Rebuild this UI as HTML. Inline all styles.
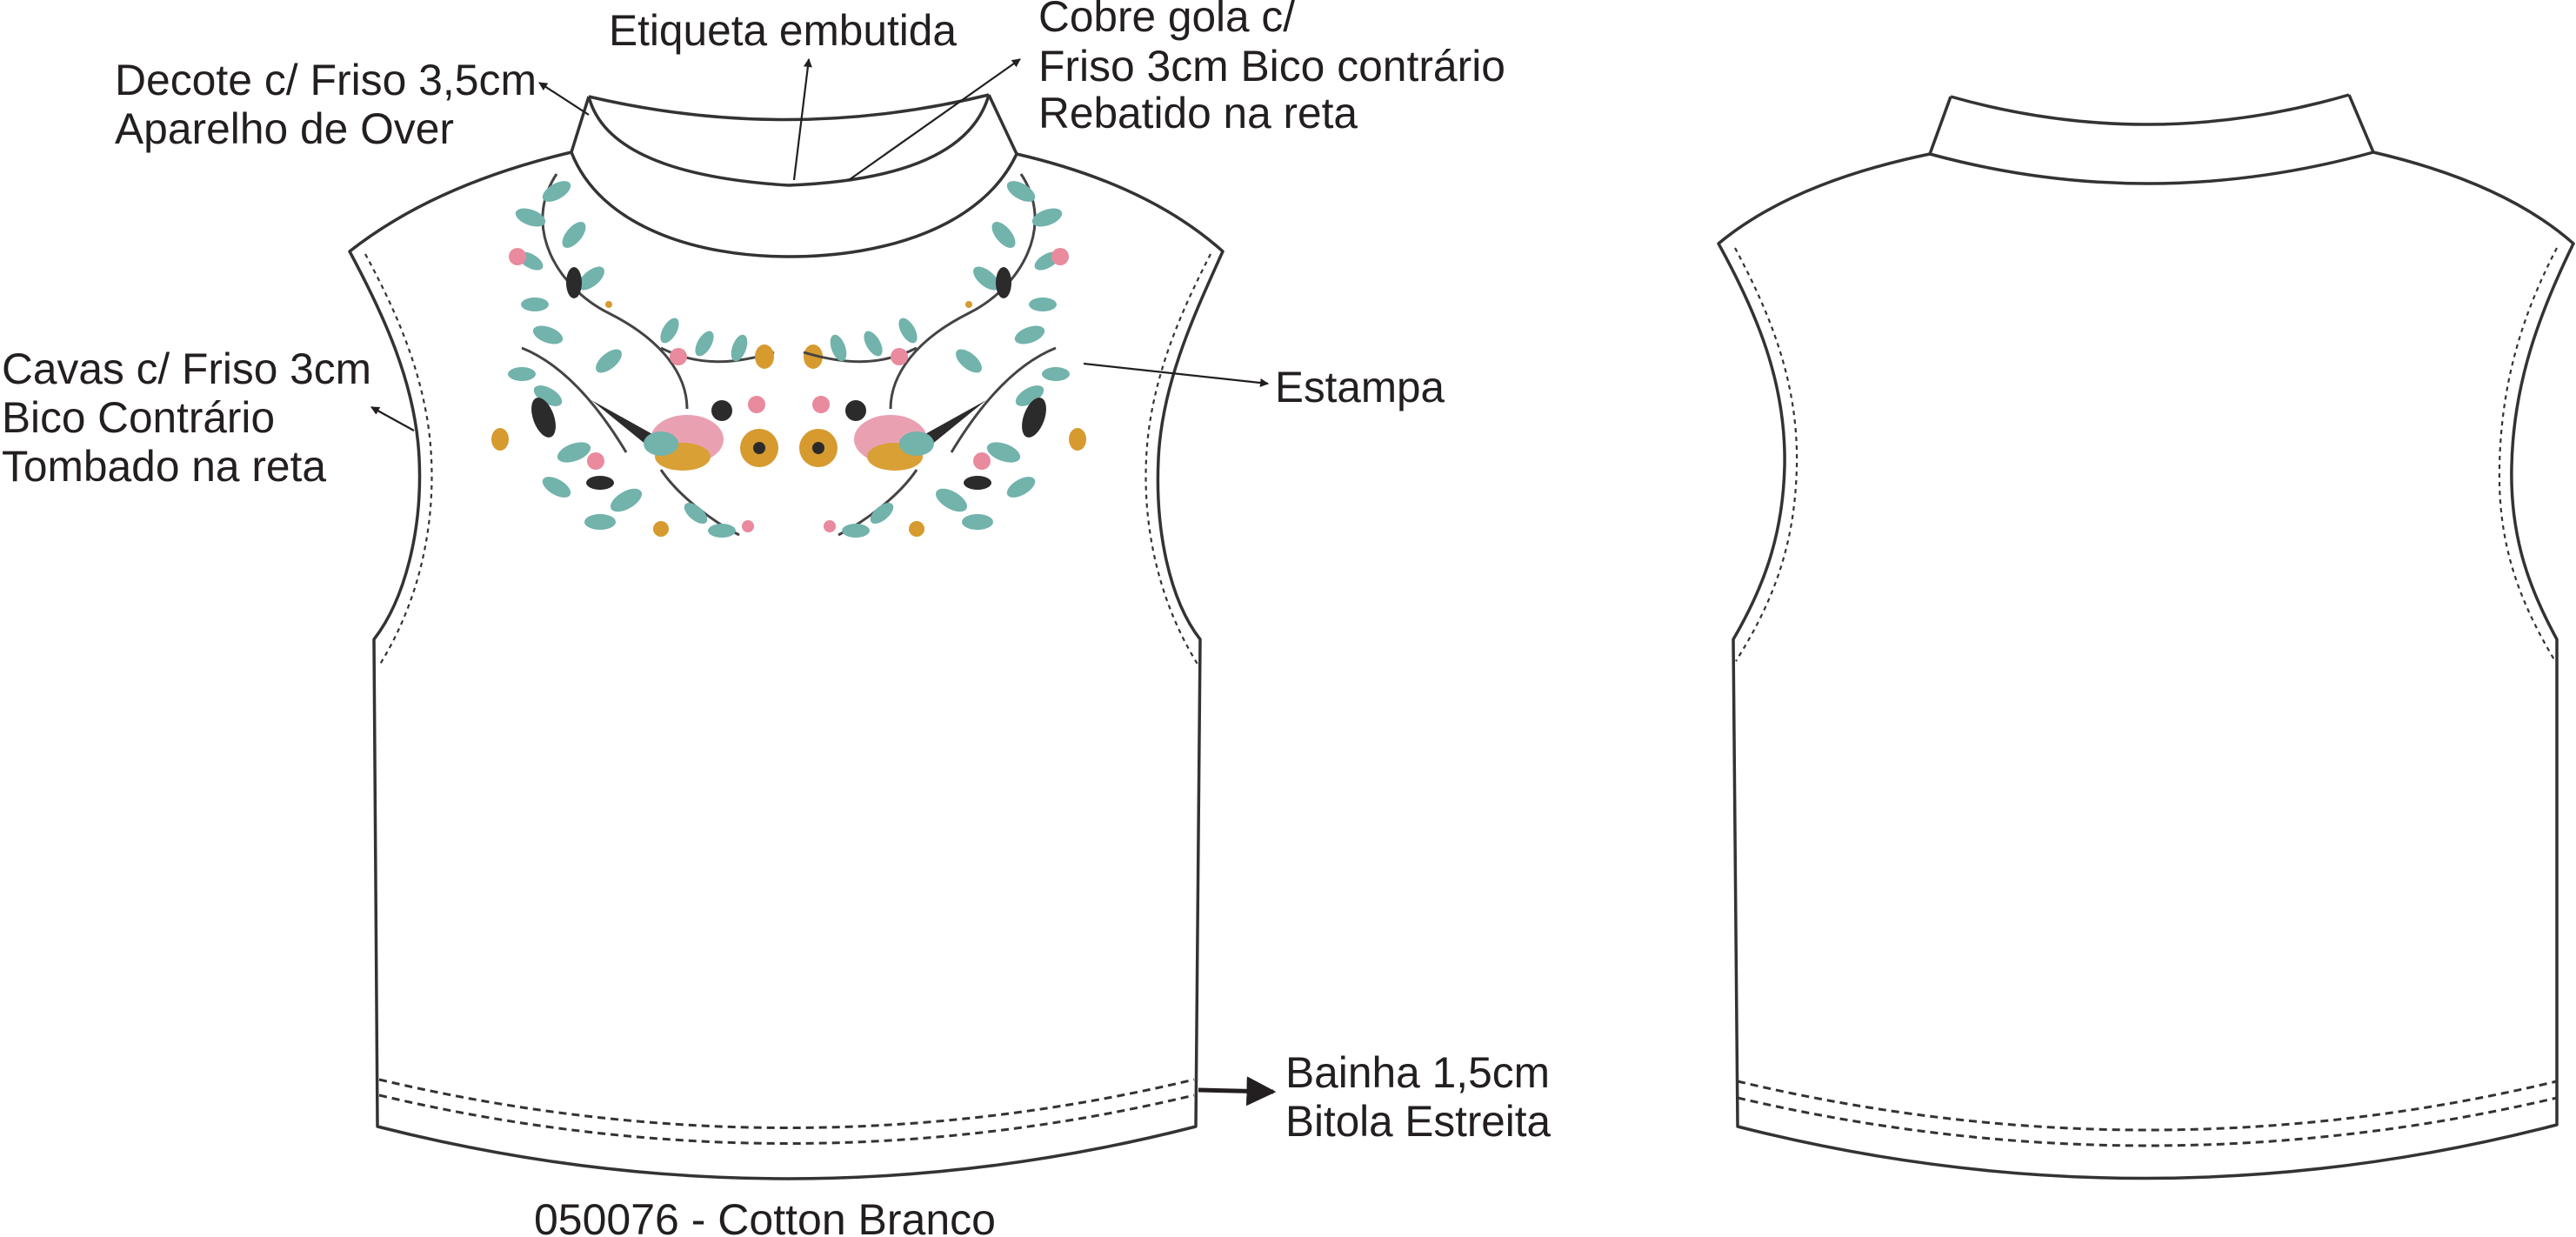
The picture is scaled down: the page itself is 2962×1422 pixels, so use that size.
<!DOCTYPE html>
<html><head><meta charset="utf-8"><style>
html,body{margin:0;padding:0;background:#fff}
svg{display:block}
text{font-family:"Liberation Sans",sans-serif;font-size:50px;fill:#231f20}
</style></head><body>
<svg width="2962" height="1422" viewBox="0 0 2962 1422" xmlns="http://www.w3.org/2000/svg">
<defs>
<marker id="ah" markerWidth="10" markerHeight="10" refX="9" refY="5" orient="auto" markerUnits="userSpaceOnUse" viewBox="0 0 10 10"><path d="M0,0 L10,5 L0,10 z" fill="#231f20"/></marker>
<marker id="ahb" viewBox="0 0 10 10" markerWidth="34" markerHeight="34" refX="9" refY="5" orient="auto" markerUnits="userSpaceOnUse"><path d="M0,0 L10,5 L0,10 z" fill="#231f20"/></marker>
<g id="half">
  <path d="M640,200 C600,260 640,330 700,360 C760,390 790,430 790,470" fill="none" stroke="#444" stroke-width="3"/>
  <path d="M600,400 C650,420 690,470 720,520" fill="none" stroke="#444" stroke-width="3"/>
  <path d="M760,400 C800,420 840,420 890,405" fill="none" stroke="#444" stroke-width="3"/>
  <path d="M760,540 C780,570 820,600 850,615" fill="none" stroke="#444" stroke-width="3"/>
  <g fill="#72b3ac">
    <ellipse cx="640" cy="220" rx="18" ry="9" transform="rotate(-30 640 220)"/>
    <ellipse cx="610" cy="250" rx="18" ry="9" transform="rotate(20 610 250)"/>
    <ellipse cx="660" cy="270" rx="18" ry="9" transform="rotate(-50 660 270)"/>
    <ellipse cx="610" cy="300" rx="16" ry="8" transform="rotate(30 610 300)"/>
    <ellipse cx="680" cy="320" rx="18" ry="9" transform="rotate(-40 680 320)"/>
    <ellipse cx="615" cy="350" rx="16" ry="8"/>
    <ellipse cx="630" cy="385" rx="18" ry="9" transform="rotate(20 630 385)"/>
    <ellipse cx="700" cy="415" rx="18" ry="9" transform="rotate(-40 700 415)"/>
    <ellipse cx="600" cy="430" rx="16" ry="8"/>
    <ellipse cx="630" cy="455" rx="18" ry="9" transform="rotate(30 630 455)"/>
    <ellipse cx="770" cy="380" rx="16" ry="8" transform="rotate(-60 770 380)"/>
    <ellipse cx="810" cy="395" rx="16" ry="8" transform="rotate(-60 810 395)"/>
    <ellipse cx="850" cy="400" rx="16" ry="8" transform="rotate(-70 850 400)"/>
    <ellipse cx="660" cy="520" rx="20" ry="10" transform="rotate(-20 660 520)"/>
    <ellipse cx="640" cy="560" rx="18" ry="9" transform="rotate(30 640 560)"/>
    <ellipse cx="720" cy="575" rx="20" ry="10" transform="rotate(-30 720 575)"/>
    <ellipse cx="690" cy="600" rx="18" ry="9"/>
    <ellipse cx="800" cy="590" rx="16" ry="8" transform="rotate(40 800 590)"/>
    <ellipse cx="830" cy="610" rx="16" ry="8"/>
  </g>
  <g fill="#2b2b2b">
    <ellipse cx="660" cy="325" rx="9" ry="18"/>
    <ellipse cx="625" cy="480" rx="12" ry="24" transform="rotate(-20 625 480)"/>
    <ellipse cx="690" cy="555" rx="16" ry="8"/>
    <path d="M680,460 L770,510 L760,525 Z"/>
    <circle cx="830" cy="472" r="12"/>
  </g>
  <ellipse cx="790" cy="505" rx="42" ry="28" fill="#e9a1b2"/>
  <ellipse cx="785" cy="525" rx="32" ry="16" fill="#d9a035"/>
  <ellipse cx="760" cy="510" rx="20" ry="14" fill="#72b3ac"/>
  <g fill="#e98a9e">
    <circle cx="595" cy="295" r="10"/>
    <circle cx="685" cy="530" r="10"/>
    <circle cx="780" cy="410" r="10"/>
    <circle cx="870" cy="465" r="10"/>
    <circle cx="860" cy="605" r="7"/>
  </g>
  <g fill="#d69a2f">
    <circle cx="873" cy="515" r="22"/>
    <ellipse cx="575" cy="505" rx="10" ry="13"/>
    <ellipse cx="935" cy="410" rx="11" ry="14"/>
    <circle cx="760" cy="608" r="9"/>
    <circle cx="700" cy="350" r="4"/>
  </g>
  <circle cx="873" cy="515" r="7" fill="#2b2b2b"/>
</g>
</defs>

<!-- print -->
<use href="#half"/>
<use href="#half" transform="translate(1814,0) scale(-1,1)"/>

<g fill="none" stroke="#333" stroke-width="3.5" stroke-linejoin="round">
  <!-- FRONT -->
  <path d="M677,111 L657,175 M1137,109 L1169,177"/>
  <path d="M677,111 Q907,165 1137,109"/>
  <path d="M677,111 Q700,200 907,213 Q1110,205 1137,109"/>
  <path d="M657,175 C690,260 800,295 907,295 C1020,295 1130,260 1169,177"/>
  <path d="M657,175 Q500,212 402,289 C440,360 478,440 482,527 C486,610 465,690 430,735 L434,1295 Q907,1415 1375,1295 L1380,735 C1345,690 1328,610 1332,527 C1336,440 1374,360 1406,289 Q1320,212 1169,177"/>
  <!-- BACK -->
  <path d="M2243,111 L2219,177 M2701,109 L2729,175"/>
  <path d="M2243,111 Q2472,176 2701,109"/>
  <path d="M2219,177 Q2472,246 2729,175"/>
  <path d="M2219,177 Q2060,210 1976,280 C2020,360 2054,440 2052,536 C2050,620 2025,680 1993,735 L1998,1295 Q2470,1415 2940,1293 L2940,735 C2910,680 2886,620 2888,536 C2890,440 2920,360 2959,280 Q2880,210 2729,175"/>
</g>
<g fill="none" stroke="#333" stroke-width="2.2" stroke-dasharray="5,5">
  <path d="M420,292 C458,362 492,440 496,527 C500,610 480,695 436,765"/>
  <path d="M1392,292 C1356,362 1322,440 1318,527 C1314,610 1334,695 1378,765"/>
  <path d="M1995,285 C2036,362 2068,440 2066,536 C2064,625 2040,690 1996,760"/>
  <path d="M2940,285 C2900,362 2876,440 2874,536 C2872,625 2896,690 2938,760"/>
</g>
<g fill="none" stroke="#333" stroke-width="3" stroke-dasharray="9,6">
  <path d="M436,1241 Q907,1352 1373,1241"/>
  <path d="M436,1259 Q907,1370 1373,1259"/>
  <path d="M1998,1243 Q2470,1355 2940,1243"/>
  <path d="M1998,1262 Q2470,1372 2940,1262"/>
</g>

<!-- arrows -->
<g stroke="#231f20" stroke-width="2.2" fill="none">
  <line x1="913" y1="207" x2="930" y2="68" marker-end="url(#ah)"/>
  <line x1="976" y1="207" x2="1173" y2="68" marker-end="url(#ah)"/>
  <line x1="677" y1="132" x2="620" y2="95" marker-end="url(#ah)"/>
  <line x1="476" y1="495" x2="427" y2="468" marker-end="url(#ah)"/>
  <line x1="1246" y1="418" x2="1458" y2="441" marker-end="url(#ah)"/>
  <line x1="1378" y1="1253" x2="1464" y2="1255" stroke-width="5" marker-end="url(#ahb)"/>
</g>

<!-- labels -->
<text x="700" y="52" textLength="400" lengthAdjust="spacingAndGlyphs">Etiqueta embutida</text>
<text x="132" y="109" textLength="485" lengthAdjust="spacingAndGlyphs">Decote c/ Friso 3,5cm</text>
<text x="132" y="165" textLength="390" lengthAdjust="spacingAndGlyphs">Aparelho de Over</text>
<text x="1194" y="36" textLength="295" lengthAdjust="spacingAndGlyphs">Cobre gola c/</text>
<text x="1194" y="93" textLength="537" lengthAdjust="spacingAndGlyphs">Friso 3cm Bico contrário</text>
<text x="1194" y="147" textLength="367" lengthAdjust="spacingAndGlyphs">Rebatido na reta</text>
<text x="2" y="441" textLength="425" lengthAdjust="spacingAndGlyphs">Cavas c/ Friso 3cm</text>
<text x="2" y="497" textLength="314" lengthAdjust="spacingAndGlyphs">Bico Contrário</text>
<text x="2" y="553" textLength="373" lengthAdjust="spacingAndGlyphs">Tombado na reta</text>
<text x="1466" y="462" textLength="195" lengthAdjust="spacingAndGlyphs">Estampa</text>
<text x="1478" y="1250" textLength="304" lengthAdjust="spacingAndGlyphs">Bainha 1,5cm</text>
<text x="1478" y="1306" textLength="305" lengthAdjust="spacingAndGlyphs">Bitola Estreita</text>
<text x="614" y="1419" textLength="531" lengthAdjust="spacingAndGlyphs">050076 - Cotton Branco</text>
</svg>
</body></html>
